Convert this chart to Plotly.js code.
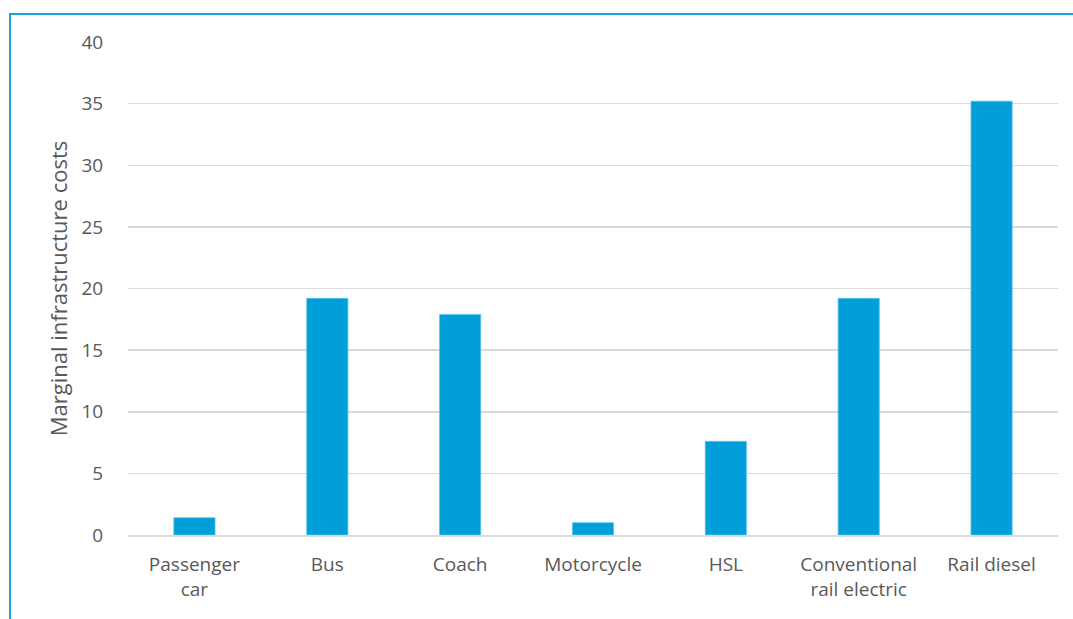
<!DOCTYPE html>
<html>
<head>
<meta charset="utf-8">
<script src="https://cdn.plot.ly/plotly-3.0.1.min.js"></script>
<style>
  html, body { margin: 0; padding: 0; background: #fff; }
  #chart { width: 1073px; height: 619px; }
  #frame { position: absolute; left: 9px; top: 13px; width: 1100px; height: 700px;
           border-top: 2px solid #1FA0DA; border-left: 2px solid #1FA0DA; pointer-events: none; }
</style>
</head>
<body>
<div id="chart"></div>
<div id="frame"></div>
<script>
const categories = ["Passenger<br>car", "Bus", "Coach", "Motorcycle", "HSL", "Conventional<br>rail electric", "Rail diesel"];
const costs = [1.4, 19.2, 17.9, 1.0, 7.6, 19.2, 35.2];
const yTicks = [0, 5, 10, 15, 20, 25, 30, 35, 40];

const font = { family: "Open Sans, Noto Sans, sans-serif", size: 19, color: "#595959" };

Plotly.newPlot("chart", [{
  type: "bar",
  x: categories,
  y: costs,
  marker: { color: "#009FDA", line: { color: "#5CC4EC", width: 0.8 } },
  width: 0.31,
  hoverinfo: "x+y"
}], {
  width: 1073, height: 619,
  margin: { l: 128, r: 15, t: 42, b: 84 },
  paper_bgcolor: "#ffffff",
  plot_bgcolor: "#ffffff",
  font: font,
  showlegend: false,
  xaxis: {
    type: "category",
    showgrid: false,
    showline: true, linecolor: "#d9d9d9", linewidth: 1.5,
    ticks: "outside", ticklen: 12, tickcolor: "rgba(0,0,0,0)",
    tickfont: font,
    fixedrange: true
  },
  yaxis: {
    range: [0, 40],
    tickvals: yTicks,
    showgrid: true, gridcolor: "#d9d9d9", gridwidth: 1.5,
    zeroline: false,
    showline: false,
    ticks: "outside", ticklen: 20, tickcolor: "rgba(0,0,0,0)",
    tickfont: font,
    title: { text: "Marginal infrastructure costs", font: { family: font.family, size: 22, color: "#595959" }, standoff: 7 },
    fixedrange: true
  }
}, { displayModeBar: false, staticPlot: true });
</script>
</body>
</html>
